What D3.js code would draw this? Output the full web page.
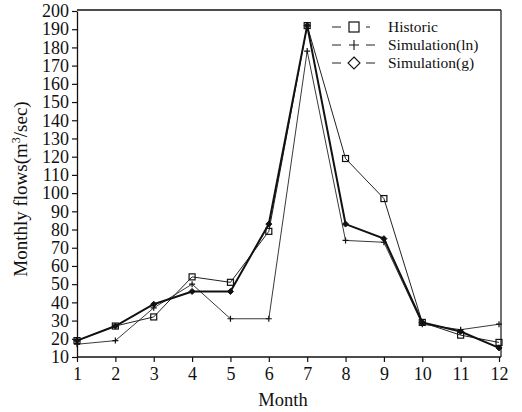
<!DOCTYPE html>
<html><head><meta charset="utf-8">
<script src="https://cdn.jsdelivr.net/npm/d3@7"></script>
<style>body{margin:0;background:#fff}svg{display:block}text{font-family:"Liberation Serif","DejaVu Serif",serif;fill:#111}</style>
</head><body><svg id="c" width="522" height="412"></svg>
<script>
const months = [1,2,3,4,5,6,7,8,9,10,11,12];
const historic = [19,27,32,54,51,79,192,119,97,29,22,18];
const simLn = [17,19,37,50,31,31,178,74,73,28,25,28];
const simG = [19,27,39,46,46,83,192,83,75,29,24,15];
const yTicks = [10,20,30,40,50,60,70,80,90,100,110,120,130,140,150,160,170,180,190,200];
const legendLabels = ["Historic","Simulation(ln)","Simulation(g)"];

const svg = d3.select("#c");
const x = d3.scaleLinear().domain([1,12]).range([77,499]);
const y = d3.scaleLinear().domain([10,200]).range([357,11]);

// frame
svg.append("line").attr("x1",77).attr("x2",501).attr("y1",10).attr("y2",10).attr("stroke","#111").attr("stroke-width",1.6);
svg.append("line").attr("x1",501).attr("x2",501).attr("y1",10).attr("y2",357).attr("stroke","#111").attr("stroke-width",1.2);

// axes
const yAxis = d3.axisLeft(y).tickValues(yTicks).tickSize(5).tickSizeOuter(0).tickPadding(3);
const gy = svg.append("g").attr("transform","translate(77,0)").call(yAxis);
gy.select(".domain").attr("stroke","#111").attr("stroke-width",1.3);
gy.selectAll(".tick line").attr("stroke","#111").attr("stroke-width",1.2);
gy.selectAll(".tick text").style("font-size","18px").style("font-family","Liberation Serif").attr("fill","#111");

const xAxis = d3.axisBottom(x).tickValues(months).tickSize(5).tickSizeOuter(0).tickPadding(5);
const gx = svg.append("g").attr("transform","translate(0,357)").call(xAxis);
gx.select(".domain").attr("stroke","#111").attr("stroke-width",1.3).attr("d","M77,0H501");
gx.selectAll(".tick line").attr("stroke","#111").attr("stroke-width",1.2);
gx.selectAll(".tick text").style("font-size","18px").style("font-family","Liberation Serif").attr("fill","#111");

svg.append("text").attr("x",283).attr("y",406).attr("text-anchor","middle").style("font-size","18.5px").text("Month");
const yl = svg.append("text").attr("transform","translate(27,189) rotate(-90)").attr("text-anchor","middle").style("font-size","19px");
yl.append("tspan").text("Monthly  flows(m");
yl.append("tspan").attr("dy",-7).style("font-size","12px").text("3");
yl.append("tspan").attr("dy",7).text("/sec)");

const line = d3.line().x((d,i)=>x(months[i])).y(d=>y(d));

// historic
svg.append("path").datum(historic).attr("d",line).attr("fill","none").attr("stroke","#222").attr("stroke-width",1);
svg.selectAll(".sq").data(historic).enter().append("rect")
  .attr("x",(d,i)=>x(months[i])-3).attr("y",d=>y(d)-3).attr("width",6).attr("height",6)
  .attr("fill","none").attr("stroke","#111").attr("stroke-width",1.2);

// sim ln
svg.append("path").datum(simLn).attr("d",line).attr("fill","none").attr("stroke","#222").attr("stroke-width",0.9);
svg.selectAll(".pl").data(simLn).enter().append("path")
  .attr("d",(d,i)=>{const cx=x(months[i]), cy=y(d);return `M${cx-3},${cy}H${cx+3}M${cx},${cy-3}V${cy+3}`;})
  .attr("stroke","#111").attr("stroke-width",1.2);

// sim g
svg.append("path").datum(simG).attr("d",line).attr("fill","none").attr("stroke","#111").attr("stroke-width",2);
svg.selectAll(".dm").data(simG).enter().append("path")
  .attr("d",(d,i)=>{const cx=x(months[i]), cy=y(d);return `M${cx},${cy-3}L${cx+3},${cy}L${cx},${cy+3}L${cx-3},${cy}Z`;})
  .attr("fill","#111").attr("stroke","#111").attr("stroke-width",1);

// legend
const lg = svg.append("g");
const ly = [27,45,63];
legendLabels.forEach((t,i)=>{
  const yy = ly[i];
  lg.append("line").attr("x1",332).attr("x2",341).attr("y1",yy).attr("y2",yy).attr("stroke","#222").attr("stroke-width",1);
  lg.append("line").attr("x1",366).attr("x2",i===0?370:375).attr("y1",yy).attr("y2",yy).attr("stroke","#222").attr("stroke-width",1);
  const cx = 354;
  if(i===0) lg.append("rect").attr("x",cx-5).attr("y",yy-5).attr("width",10).attr("height",10).attr("fill","none").attr("stroke","#111").attr("stroke-width",1.2);
  if(i===1) lg.append("path").attr("d",`M${cx-5},${yy}H${cx+5}M${cx},${yy-5}V${yy+5}`).attr("stroke","#111").attr("stroke-width",1.1);
  if(i===2) lg.append("path").attr("d",`M${cx},${yy-6}L${cx+6},${yy}L${cx},${yy+6}L${cx-6},${yy}Z`).attr("fill","none").attr("stroke","#111").attr("stroke-width",1.1);
  lg.append("text").attr("x",388).attr("y",yy+5).style("font-size","15.5px").text(t);
});
</script></body></html>
